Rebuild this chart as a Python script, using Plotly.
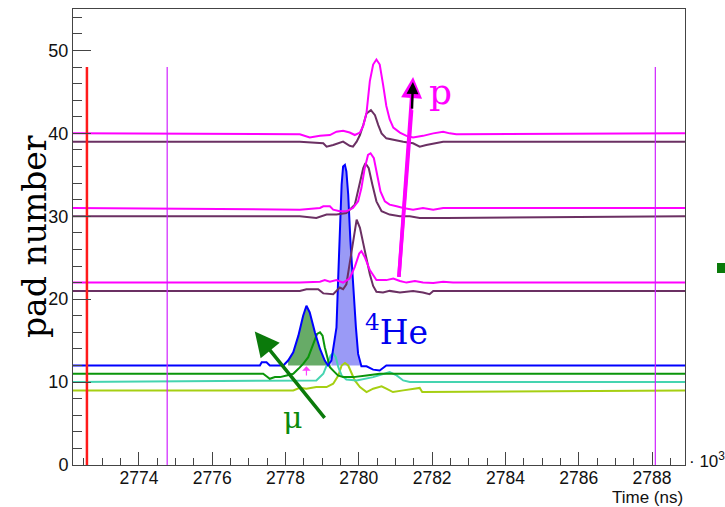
import plotly.graph_objects as go

# ---------------- data ----------------
t_start, t_end = 2772.2, 2788.9   # histogram range (ns, x10^3 axis units)

# each pad: baseline (pad number), times of the pulse window, offsets from the baseline
pad40_t = [2778.39, 2778.66, 2778.94, 2779.21, 2779.39, 2779.57, 2779.75, 2779.89, 2780.03, 2780.12,
           2780.21, 2780.30, 2780.39, 2780.48, 2780.57, 2780.66, 2780.75, 2780.84, 2780.94, 2781.12,
           2781.30, 2781.48, 2781.75, 2782.03, 2782.30, 2782.48, 2782.66]
pad40_v = [-0.1, -0.5, -0.3, -0.2, 0.2, 0.3, 0.1, -0.2, 0.1, 0.9,
           2.5, 6.3, 8.3, 8.9, 8.3, 5.9, 3.3, 1.7, 0.7, 0.1,
           -0.3, -0.5, -0.3, 0.0, 0.2, 0.0, -0.1]

pad39_t = [2778.39, 2779.03, 2779.12, 2779.30, 2779.57, 2779.75, 2779.84, 2779.94, 2780.03, 2780.12,
           2780.21, 2780.33, 2780.44, 2780.53, 2780.62, 2780.75, 2780.94, 2781.21, 2781.48, 2781.66,
           2781.84, 2782.03, 2782.30]
pad39_v = [0.0, -0.2, -0.6, -0.4, 0.0, -0.5, -0.6, 0.0, 0.8, 2.0,
           3.4, 3.8, 3.2, 2.0, 1.0, 0.4, 0.2, 0.0, -0.2, -0.6,
           -0.4, -0.2, 0.0]

pad31_t = [2778.39, 2778.94, 2779.03, 2779.21, 2779.30, 2779.48, 2779.66, 2779.84, 2779.98, 2780.07,
           2780.16, 2780.25, 2780.32, 2780.41, 2780.50, 2780.59, 2780.71, 2780.84, 2781.03, 2781.21,
           2781.48, 2781.75, 2782.03, 2782.30, 2782.57]
pad31_v = [-0.2, 0.0, 0.2, 0.2, -0.2, -0.4, -0.4, 0.0, 0.8, 2.4,
           4.8, 6.4, 6.6, 6.0, 4.0, 2.0, 0.8, 0.4, 0.2, 0.0,
           -0.2, 0.0, -0.2, 0.0, 0.0]

pad30_t = [2778.39, 2778.84, 2779.12, 2779.39, 2779.66, 2779.89, 2780.03, 2780.12, 2780.18, 2780.27,
           2780.37, 2780.48, 2780.62, 2780.84, 2781.12, 2781.39, 2781.66, 2782.03, 2782.39]
pad30_v = [0.0, -0.2, 0.2, 0.2, 0.4, 1.4, 4.2, 5.8, 6.4, 5.8,
           3.8, 1.8, 0.6, 0.2, 0.0, 0.0, -0.2, -0.2, -0.2]

pad22_t = [2778.39, 2778.94, 2779.07, 2779.21, 2779.39, 2779.57, 2779.75, 2779.89, 2780.01, 2780.07,
           2780.16, 2780.30, 2780.48, 2780.75, 2780.94, 2781.12, 2781.30, 2781.53, 2781.75, 2782.03,
           2782.30, 2782.57, 2783.02]
pad22_v = [0.0, 0.1, 0.3, 0.1, 0.3, 0.0, 0.5, 1.9, 3.5, 3.8,
           3.1, 1.5, 0.3, 0.3, 0.5, 0.2, 0.0, 0.2, 0.0, -0.05,
           0.1, 0.0, 0.0]

pad21_t = [2778.39, 2778.57, 2778.89, 2779.03, 2779.30, 2779.48, 2779.57, 2779.66, 2779.75, 2779.84,
           2779.94, 2780.03, 2780.12, 2780.21, 2780.30, 2780.39, 2780.48, 2780.66, 2780.84, 2781.12,
           2781.48, 2781.75, 2781.93, 2782.03]
pad21_v = [0.0, 0.2, 0.2, -0.3, -0.4, 0.4, 0.2, 0.8, 3.2, 5.6,
           8.6, 7.6, 5.6, 3.6, 2.0, 0.6, -0.1, -0.2, 0.0, -0.2,
           0.0, -0.2, -0.4, 0.0]

pad12_t = [2776.75, 2777.30, 2777.35, 2777.48, 2777.57, 2777.94, 2778.07, 2778.21, 2778.35, 2778.48,
           2778.57, 2778.66, 2778.80, 2778.94, 2779.07, 2779.16, 2779.25, 2779.34, 2779.39, 2779.44,
           2779.48, 2779.53, 2779.57, 2779.62, 2779.66, 2779.71, 2779.77, 2779.85, 2779.92, 2779.98,
           2780.07, 2780.21, 2780.39, 2780.57, 2780.66, 2780.75]
pad12_v = [0.0, 0.0, 0.4, 0.4, 0.0, 0.0, 0.6, 1.6, 3.6, 6.0,
           7.2, 6.4, 4.0, 2.0, 0.6, 0.0, 0.6, 3.0, 4.6, 11.0,
           17.0, 21.8, 24.0, 24.2, 23.4, 20.6, 15.0, 9.0, 4.6, 1.4,
           -0.1, -0.1, -0.5, -0.6, -0.3, 0.0]

pad11_t = [2776.75, 2777.39, 2777.48, 2777.57, 2777.71, 2777.85, 2778.03, 2778.21, 2778.35, 2778.48,
           2778.62, 2778.75, 2778.86, 2778.94, 2779.01, 2779.07, 2779.14, 2779.21, 2779.34, 2779.43,
           2779.57, 2779.85, 2780.21, 2780.57, 2780.84]
pad11_v = [0.0, 0.0, -0.3, -0.6, -0.4, -0.4, -0.2, 0.0, 0.6, 1.2,
           2.0, 3.6, 4.8, 5.0, 4.6, 3.2, 1.8, 0.8, 0.2, -0.2,
           -0.4, -0.4, -0.2, 0.0, 0.0]

pad10_t = [2778.12, 2778.57, 2778.84, 2779.03, 2779.14, 2779.23, 2779.30, 2779.37, 2779.44, 2779.53,
           2779.66, 2779.94, 2780.39, 2780.66, 2780.84, 2781.03, 2781.21, 2781.39]
pad10_v = [0.2, 0.2, 0.2, 1.0, 2.2, 3.2, 3.5, 3.0, 1.8, 0.8,
           0.3, 0.2, 0.6, 1.0, 1.2, 0.8, 0.2, 0.0]

pad9_t = [2778.21, 2778.39, 2778.57, 2778.84, 2779.12, 2779.30, 2779.44, 2779.53, 2779.62, 2779.71,
          2779.80, 2779.89, 2780.03, 2780.21, 2780.39, 2780.62, 2780.75, 2780.93, 2781.21, 2781.48,
          2781.66, 2781.73]
pad9_v = [0.0, 0.3, 0.2, 0.4, 0.4, 0.8, 1.8, 3.0, 3.3, 3.0,
          2.0, 1.2, 0.4, -0.2, 0.2, 0.5, 0.2, -0.2, 0.0, 0.2,
          0.3, -0.2]

pads = [
    # (baseline, times, offsets, colour)
    (9,  pad9_t,  pad9_v,  "#a6cf12"),
    (10, pad10_t, pad10_v, "#45d4b0"),
    (11, pad11_t, pad11_v, "#0a950a"),
    (12, pad12_t, pad12_v, "#0000ff"),
    (21, pad21_t, pad21_v, "#6b3063"),
    (22, pad22_t, pad22_v, "#ff00ff"),
    (30, pad30_t, pad30_v, "#6b3063"),
    (31, pad31_t, pad31_v, "#ff00ff"),
    (39, pad39_t, pad39_v, "#6b3063"),
    (40, pad40_t, pad40_v, "#ff00ff"),
]

# filled pulse windows on pad 12 : (t_from, t_to, fill colour)
fill_windows = [(2778.00, 2779.16, "rgba(10,120,10,0.62)"),
                (2779.25, 2780.07, "rgba(30,30,235,0.45)")]

# vertical marker lines
vline_t = [2772.58, 2774.77, 2788.09]
vline_top = [48, 48, 48]
vline_col = ["#ff1a1a", "#d020ff", "#d020ff"]
vline_w = [2.5, 1.2, 1.2]

# arrows: (tail_t, tail_pad, tip_t, tip_pad)
arrow_p = (2781.09, 22.5, 2781.48, 46.8)
arrow_mu = (2779.10, 5.5, 2777.16, 16.1)
arrow_small = (2778.57, 10.6, 2778.57, 11.9)

# ---------------- figure ----------------
W, H = 725, 507
L, R, T, B = 73, 40, 9, 42
pw, ph = W - L - R, H - T - B

fig = go.Figure()

# fills
base12 = 12
for (a, b, col) in fill_windows:
    xs = [t for t in pad12_t if a <= t <= b]
    ys = [base12 + v for t, v in zip(pad12_t, pad12_v) if a <= t <= b]
    fig.add_trace(go.Scatter(x=[xs[0]] + xs + [xs[-1]], y=[base12] + ys + [base12],
                             fill="toself", fillcolor=col, mode="lines",
                             line=dict(width=0), hoverinfo="skip", showlegend=False))

for base, ts, vs, col in pads:
    xs = [t_start] + ts + [t_end]
    ys = [base] + [base + v for v in vs] + [base]
    fig.add_trace(go.Scatter(x=xs, y=ys, mode="lines", line=dict(color=col, width=2),
                             showlegend=False, hoverinfo="skip"))

for t, top, col, w in zip(vline_t, vline_top, vline_col, vline_w):
    fig.add_trace(go.Scatter(x=[t, t], y=[0, top], mode="lines",
                             line=dict(color=col, width=w), showlegend=False, hoverinfo="skip"))

serif = "DejaVu Serif"
ann = []
# arrows
ann.append(dict(x=arrow_p[2], y=arrow_p[3], ax=arrow_p[0], ay=arrow_p[1], xref="x", yref="y",
                axref="x", ayref="y", showarrow=True, arrowhead=2, arrowsize=1.2, arrowwidth=3.5,
                arrowcolor="#ff00ff", text=""))
ann.append(dict(x=arrow_p[2] - 0.005, y=arrow_p[3] - 0.6, ax=arrow_p[2] - 0.03, ay=arrow_p[3] - 4.0,
                xref="x", yref="y", axref="x", ayref="y", showarrow=True, arrowhead=2,
                arrowsize=1.0, arrowwidth=2.4, arrowcolor="#000000", text=""))
ann.append(dict(x=arrow_p[2] - 0.04, y=arrow_p[3] - 4.0, ax=arrow_p[0], ay=arrow_p[1], xref="x", yref="y",
                axref="x", ayref="y", showarrow=True, arrowhead=0, arrowwidth=3.5,
                arrowcolor="#ff00ff", text=""))
ann.append(dict(x=arrow_mu[2], y=arrow_mu[3], ax=arrow_mu[0], ay=arrow_mu[1], xref="x", yref="y",
                axref="x", ayref="y", showarrow=True, arrowhead=2, arrowsize=1.4, arrowwidth=3.5,
                arrowcolor="#0b7a0b", text=""))
ann.append(dict(x=arrow_small[2], y=arrow_small[3], ax=arrow_small[0], ay=arrow_small[1],
                xref="x", yref="y", axref="x", ayref="y", showarrow=True, arrowhead=1,
                arrowsize=1.2, arrowwidth=1.2, arrowcolor="#ff40ff", text=""))
# labels
ann.append(dict(x=2782.24, y=45.0, xref="x", yref="y", text="p", showarrow=False,
                font=dict(family=serif, size=36, color="#ff00ff")))
ann.append(dict(x=2781.04, y=16.2, xref="x", yref="y", text="<sup>4</sup>He", showarrow=False,
                font=dict(family=serif, size=33, color="#0000ee")))
ann.append(dict(x=2778.20, y=5.7, xref="x", yref="y", text="μ", showarrow=False,
                font=dict(family=serif, size=30, color="#0b8a0b")))
# axis titles
ann.append(dict(x=(34 - L) / pw, y=(H - B - 237) / ph, xref="x domain", yref="y domain",
                text="pad number", showarrow=False, textangle=-90, xanchor="center", yanchor="middle",
                font=dict(family=serif, size=33, color="#000000")))
ann.append(dict(x=1.0, y=(H - B - 497) / ph, xref="x domain", yref="y domain", text="Time (ns)",
                showarrow=False, xanchor="right", yanchor="middle",
                font=dict(family="Liberation Sans", size=17, color="#111")))
ann.append(dict(x=1.003, y=0.01, xref="x domain", yref="y domain", text="· 10<sup>3</sup>", showarrow=False,
                xanchor="left", yanchor="middle", font=dict(family="Liberation Sans", size=17, color="#111")))
fig.update_layout(annotations=ann)

fig.add_shape(type="rect", xref="paper", yref="paper",
              x0=(717 - L) / pw, x1=(726 - L) / pw,
              y0=(H - B - 273) / ph, y1=(H - B - 263) / ph,
              fillcolor="#0a7a0a", line=dict(width=0))

fig.update_layout(
    width=W, height=H, margin=dict(l=L, r=R, t=T, b=B),
    paper_bgcolor="white", plot_bgcolor="white",
    font=dict(family="Liberation Sans", size=18, color="#111"),
    xaxis=dict(range=[t_start, t_end], tick0=2774, dtick=2, ticks="inside", ticklen=13,
               tickcolor="#444", showline=True, linecolor="#444", linewidth=1, mirror=True,
               showgrid=False, zeroline=False, ticklabelstandoff=-3,
               minor=dict(dtick=0.5, ticks="inside", ticklen=7, tickcolor="#444"),
               tickfont=dict(family="Liberation Sans", size=17.5, color="#111")),
    yaxis=dict(range=[0, 55], tick0=0, dtick=10, ticks="inside", ticklen=18,
               tickcolor="#444", showline=True, linecolor="#444", linewidth=1, mirror=True,
               showgrid=False, zeroline=False,
               minor=dict(dtick=2, ticks="inside", ticklen=9, tickcolor="#444"),
               tickfont=dict(family="Liberation Sans", size=18, color="#111")),
)

fig.write_html("out.html")
